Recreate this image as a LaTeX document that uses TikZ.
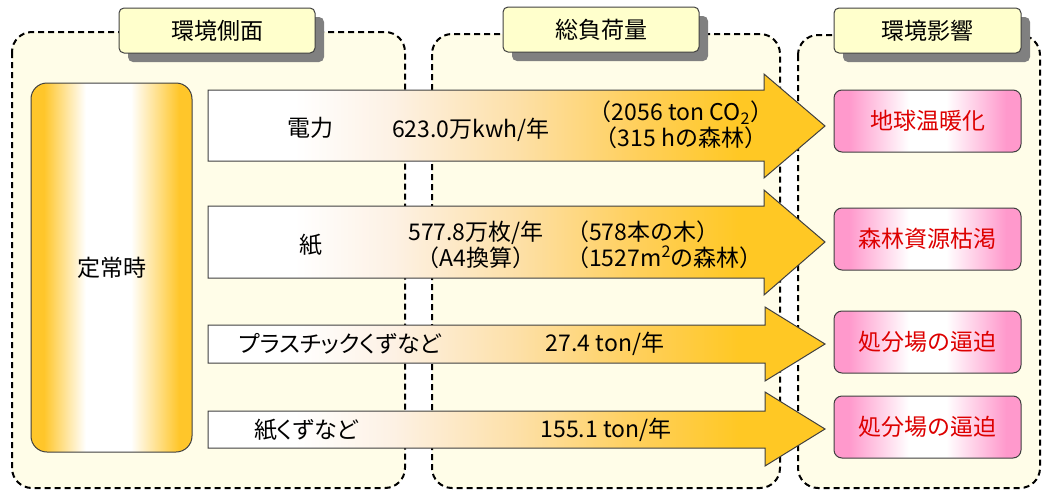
\documentclass[tikz,border=0pt]{standalone}
\usepackage{fontspec}
\setmainfont{Noto Sans CJK JP}
\newfontfamily\jpp[RawFeature=+palt]{Noto Sans CJK JP}
\usetikzlibrary{shadows}
\definecolor{panelfill}{HTML}{FFFDE8}
\definecolor{tabfill}{HTML}{FFFFCC}
\definecolor{goldc}{HTML}{FFC62A}
\definecolor{pinkc}{HTML}{FF99CC}
\definecolor{redtxt}{HTML}{DD0000}
\definecolor{peachA}{HTML}{FDF1E4}
\definecolor{peachB}{HTML}{FDE0A8}
\definecolor{goldB}{HTML}{FFCF5A}
\definecolor{goldD}{HTML}{FFC824}
\definecolor{edge}{HTML}{404040}
\pgfdeclarehorizontalshading{goldwhite}{100bp}{color(0bp)=(goldc); color(25bp)=(goldc); color(29bp)=(goldc); color(42bp)=(white); color(56bp)=(white); color(71bp)=(goldc); color(75bp)=(goldc); color(100bp)=(goldc)}
\pgfdeclarehorizontalshading{pinkwhite}{100bp}{color(0bp)=(pinkc); color(25bp)=(pinkc); color(29bp)=(pinkc); color(45bp)=(white); color(55bp)=(white); color(71bp)=(pinkc); color(75bp)=(pinkc); color(100bp)=(pinkc)}
\pgfdeclarehorizontalshading{arrowshade}{100bp}{color(0bp)=(white); color(25bp)=(white); color(32bp)=(white); color(40bp)=(peachA); color(50bp)=(peachB); color(60bp)=(goldB); color(68bp)=(goldD); color(75bp)=(goldD); color(100bp)=(goldD)}
\tikzset{
  panel/.style={draw=black, line width=2pt, dash pattern=on 6pt off 4pt, fill=panelfill, rounded corners=20pt},
  tabbox/.style={draw=edge, line width=1pt, fill=tabfill, rounded corners=5pt, minimum height=45pt, inner sep=0pt,
    drop shadow={shadow xshift=9pt, shadow yshift=-9pt, fill=black!50, opacity=1}},
  fatarrow/.style={draw=edge, line width=1pt, shading=arrowshade},
  effect/.style={draw=edge, line width=1pt, shading=pinkwhite, rounded corners=8pt, minimum width=187pt, minimum height=62pt, inner sep=0pt, text=redtxt},
  lbl/.style={inner sep=0pt}
}
\begin{document}
\begin{tikzpicture}[x=1pt,y=-1pt, font=\fontsize{23}{26}\selectfont]
\useasboundingbox (0,0) rectangle (1042,490);
% panels
\path[panel] (12,32) rectangle (405,488);
\path[panel] (432,34) rectangle (780,488);
\path[panel] (798,35) rectangle (1040,488);
% tabs
\node[tabbox, minimum width=196pt] (t1) at (217,30.5) {環境側面};
\node[tabbox, minimum width=196pt] (t2) at (601,29.5) {総負荷量};
\node[tabbox, minimum width=187pt] (t3) at (927.5,30.5) {環境影響};
% steady-state box
\node[draw=edge, line width=1pt, shading=goldwhite, rounded corners=16pt, minimum width=161pt, minimum height=369pt, inner sep=0pt] (s) at (111.5,267.5) {定常時};
% arrows
\path[fatarrow] (208,90) -- (764,90) -- (764,74) -- (825,126) -- (764,178) -- (764,161) -- (208,161) -- cycle;
\path[fatarrow] (208,206) -- (764,206) -- (764,190) -- (825,242) -- (764,295) -- (764,278) -- (208,278) -- cycle;
\path[fatarrow] (208,325) -- (765,325) -- (765,307) -- (825,344) -- (765,381) -- (765,363) -- (208,363) -- cycle;
\path[fatarrow] (208,411) -- (765,411) -- (765,392) -- (825,429) -- (765,466) -- (765,448) -- (208,448) -- cycle;
% arrow labels
\node[lbl] (a1) at (310,128) {電力};
\node[lbl] (a1v) at (471,130) {623.0万kwh/年};
\node[lbl, align=center] (a1c) at (681,125) {（2056 ton CO\textsubscript{2}）\\（315 hの森林）};
\node[lbl] (a2) at (311,245) {紙};
\node[lbl, align=center] (a2v) at (476,245) {577.8万枚/年\\（A4換算）};
\node[lbl, align=left, anchor=west] (a2c) at (566,245) {（578本の木）\\（1527m\textsuperscript{2}の森林）};
\node[lbl, font=\jpp\fontsize{23}{26}\selectfont] (a3) at (340,344) {プラスチックくずなど};
\node[lbl] (a3v) at (605,344) {27.4 ton/年};
\node[lbl, font=\jpp\fontsize{23}{26}\selectfont] (a4) at (306,430) {紙くずなど};
\node[lbl] (a4v) at (606,430) {155.1 ton/年};
% effects
\node[effect] (r1) at (927.5,121) {地球温暖化};
\node[effect] (r2) at (927.5,239) {森林資源枯渇};
\node[effect] (r3) at (927.5,342) {処分場の逼迫};
\node[effect] (r4) at (927.5,427) {処分場の逼迫};
\end{tikzpicture}
\end{document}
